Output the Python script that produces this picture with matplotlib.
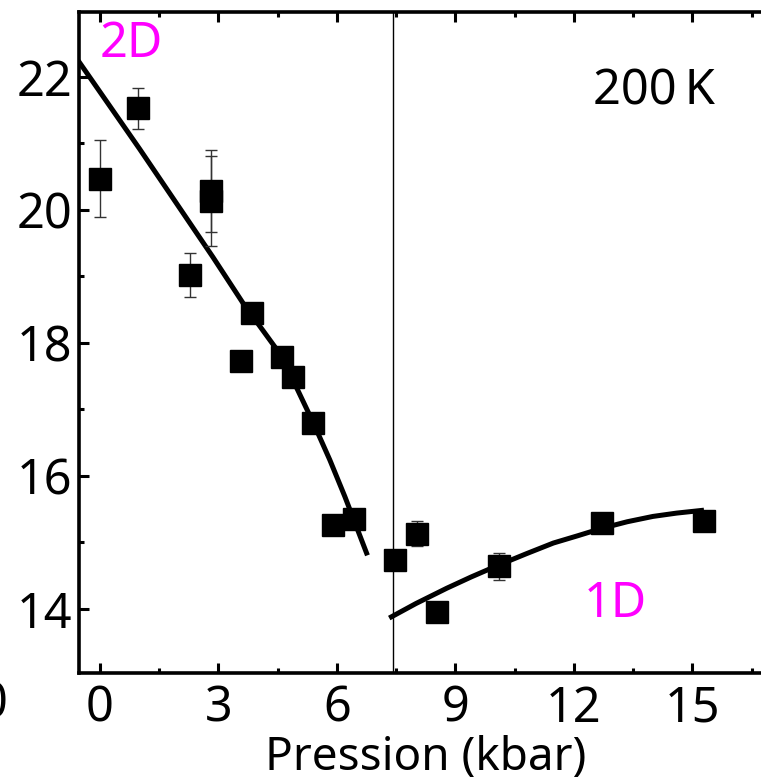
import matplotlib
matplotlib.use("Agg")
import matplotlib.pyplot as plt
from matplotlib.ticker import MultipleLocator

plt.rcParams['font.family'] = ['Noto Sans', 'DejaVu Sans']

# Data points (pressure in kbar, value)
pressure = [0.0, 0.96, 2.28, 2.80, 2.80, 3.57, 3.84, 4.62, 4.89, 5.40,
            5.91, 6.44, 7.48, 8.02, 8.53, 10.10, 12.70, 15.29]
value = [20.47, 21.53, 19.02, 20.28, 20.13, 17.72, 18.45, 17.79, 17.49, 16.80,
         15.26, 15.35, 14.74, 15.13, 13.95, 14.64, 15.29, 15.32]
error = [0.58, 0.31, 0.33, 0.62, 0.68, 0.0, 0.0, 0.08, 0.0, 0.0,
         0.0, 0.0, 0.0, 0.19, 0.0, 0.20, 0.0, 0.0]

# Fit curve for 2D regime
fit2d_x = [-0.51, 1.0, 2.86, 3.62, 4.60, 5.40, 5.82, 6.20, 6.75]
fit2d_y = [22.21, 20.92, 19.29, 18.60, 17.80, 16.80, 16.24, 15.69, 14.84]

# Fit curve for 1D regime
fit1d_x = [7.38, 8.0, 8.78, 9.4, 10.10, 10.8, 11.48, 12.1, 12.70, 13.35, 14.00, 14.6, 15.23]
fit1d_y = [13.88, 14.08, 14.31, 14.48, 14.66, 14.83, 14.99, 15.10, 15.21, 15.31, 15.39, 15.44, 15.48]

transition_p = 7.43

fig = plt.figure(figsize=(7.61, 7.81), dpi=100)
ax = fig.add_axes([79/761, (781-672.7)/781, 692.4/761, 661/781])

ax.errorbar(pressure, value, yerr=error, fmt='s', color='black',
            markersize=15.5, ecolor='#333333', elinewidth=1.0,
            capsize=4, capthick=1.0, zorder=3)
ax.plot(fit2d_x, fit2d_y, color='black', lw=3.6, zorder=2, solid_joinstyle='round')
ax.plot(fit1d_x, fit1d_y, color='black', lw=3.6, zorder=2, solid_joinstyle='round')
ax.axvline(transition_p, color='black', lw=1.0, zorder=1)

ax.set_xlim(-0.53, 17.0)
ax.set_ylim(13.04, 22.98)
ax.xaxis.set_major_locator(MultipleLocator(3))
ax.xaxis.set_minor_locator(MultipleLocator(1.5))
ax.yaxis.set_major_locator(MultipleLocator(2))
ax.yaxis.set_minor_locator(MultipleLocator(1))

for s in ax.spines.values():
    s.set_linewidth(2.6)

ax.tick_params(which='both', direction='in', top=True, right=True, width=2.2)
ax.tick_params(which='major', length=7.2, labelsize=35)
ax.tick_params(which='minor', length=3.6)
ax.tick_params(axis='x', which='major', pad=8)
ax.tick_params(axis='y', which='major', pad=5)

ax.set_xlabel('Pression (kbar)', fontsize=33, labelpad=1)

ax.text(0.0, 22.5, '2D', color='#FF00FF', fontsize=35, ha='left', va='center')
ax.text(14.03, 21.78, '200\u2009K', color='black', fontsize=35, ha='center', va='center')
ax.text(13.06, 14.08, '1D', color='#FF00FF', fontsize=35, ha='center', va='center')

fig.text(8/761, (781-704)/781, '0', fontsize=35, ha='right', va='center')

fig.savefig('out.png', dpi=100)
